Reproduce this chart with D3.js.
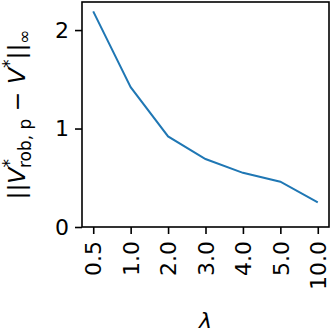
<!DOCTYPE html>
<html>
<head>
<meta charset="utf-8">
<script src="https://cdn.jsdelivr.net/npm/d3@7"></script>
<style>
  body { margin: 0; background: #fff; }
  text { font-family: "DejaVu Sans", sans-serif; }
</style>
</head>
<body>
<div id="chart"></div>
<script>
var width = 334, height = 332;

// lambda values (categorical) and error values
var lambdas = ["0.5", "1.0", "2.0", "3.0", "4.0", "5.0", "10.0"];
var errors = [2.19, 1.42, 0.92, 0.69, 0.55, 0.46, 0.25];
var yTicks = [0, 1, 2];

var margin = {left: 82, right: 5, top: 2, bottom: 105};

var svg = d3.select("#chart").append("svg")
    .attr("width", width)
    .attr("height", height);

var plotW = width - margin.left - margin.right;
var plotH = height - margin.top - margin.bottom;

// matplotlib style 5% margin on categorical axis
var n = lambdas.length;
var pad = plotW * 0.3 / (n - 1 + 0.6);
var x = d3.scalePoint()
    .domain(lambdas)
    .range([margin.left + pad, margin.left + plotW - pad]);

var y = d3.scaleLinear()
    .domain([0, 2.285])
    .range([margin.top + plotH, margin.top]);

var line = d3.line()
    .x(function(d, i) { return x(lambdas[i]); })
    .y(function(d) { return y(d); });

svg.append("path")
    .datum(errors)
    .attr("d", line)
    .attr("fill", "none")
    .attr("stroke", "#1f77b4")
    .attr("stroke-width", 2);

// frame
svg.append("rect")
    .attr("x", margin.left)
    .attr("y", margin.top)
    .attr("width", plotW)
    .attr("height", plotH)
    .attr("fill", "none")
    .attr("stroke", "#000")
    .attr("stroke-width", 1.6);

// y axis
var yAxis = svg.append("g")
    .attr("transform", "translate(" + margin.left + ",0)")
    .call(d3.axisLeft(y).tickValues(yTicks).tickFormat(d3.format("d")).tickSize(7).tickPadding(6));
yAxis.select(".domain").remove();
yAxis.selectAll("line").attr("stroke-width", 1.6);
yAxis.selectAll("text").attr("font-size", 22).attr("font-family", "DejaVu Sans").attr("fill", "#000");

// x axis
var xAxis = svg.append("g")
    .attr("transform", "translate(0," + (margin.top + plotH) + ")")
    .call(d3.axisBottom(x).tickSize(7).tickPadding(6));
xAxis.select(".domain").remove();
xAxis.selectAll("line").attr("stroke-width", 1.6);
xAxis.selectAll("text")
    .attr("font-size", 22)
    .attr("font-family", "DejaVu Sans")
    .attr("fill", "#000")
    .attr("transform", "rotate(-90)")
    .attr("text-anchor", "end")
    .attr("x", -14)
    .attr("y", 0)
    .attr("dy", "0.35em");

// x label
svg.append("text")
    .attr("x", margin.left + plotW / 2)
    .attr("y", 328)
    .attr("text-anchor", "middle")
    .attr("font-size", 22)
    .attr("font-style", "italic")
    .text("λ");

// y label with math-ish layout
var yl = svg.append("text")
    .attr("transform", "translate(25," + (margin.top + plotH / 2) + ") rotate(-90)")
    .attr("text-anchor", "middle")
    .attr("font-size", 23.5);
yl.append("tspan").text("||");
yl.append("tspan").attr("font-style", "italic").text("V");
yl.append("tspan").attr("font-size", 17).attr("dy", -10).text("*");
yl.append("tspan").attr("font-size", 17).attr("dx", -9).attr("dy", 16).text("rob, p");
yl.append("tspan").attr("dy", -6).text(" − ");
yl.append("tspan").attr("font-style", "italic").text("V");
yl.append("tspan").attr("font-size", 17).attr("dy", -10).text("*");
yl.append("tspan").attr("dy", 10).text("||");
yl.append("tspan").attr("font-size", 17).attr("dy", 5).text("∞");
</script>
</body>
</html>
